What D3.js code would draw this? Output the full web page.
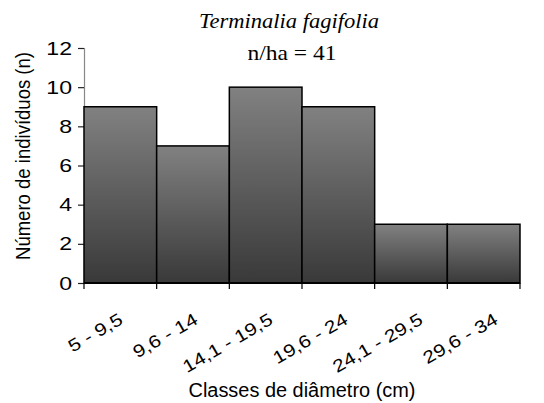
<!DOCTYPE html>
<html>
<head>
<meta charset="utf-8">
<script src="https://cdn.jsdelivr.net/npm/d3@7"></script>
<style>
  html, body { margin: 0; padding: 0; background: #fff; }
  svg { display: block; }
</style>
</head>
<body>
<svg id="chart" width="544" height="403"></svg>
<script>
// Diameter classes (cm) and number of individuals per class
const classes = ["5 - 9,5", "9,6 - 14", "14,1 - 19,5", "19,6 - 24", "24,1 - 29,5", "29,6 - 34"];
const counts = [9, 7, 10, 9, 3, 3];
const yTicks = [0, 2, 4, 6, 8, 10, 12];

const svg = d3.select("#chart");
const plotLeft = 84, plotRight = 520, plotTop = 48, plotBottom = 283;
const sans = "Liberation Sans, Arial, sans-serif";
const serif = "Liberation Serif, Times New Roman, serif";

const x = d3.scaleBand().domain(classes).range([plotLeft, plotRight]).padding(0);
const y = d3.scaleLinear().domain([0, 12]).range([plotBottom, plotTop]);
// category labels sit on a slightly wider pitch than the bars
const xLabel = d3.scalePoint().domain(classes).range([124, 499]);

// Vertical gray gradient for each bar
const defs = svg.append("defs");
const grad = defs.append("linearGradient")
  .attr("id", "barGrad").attr("x1", 0).attr("y1", 0).attr("x2", 0).attr("y2", 1);
grad.append("stop").attr("offset", "0%").attr("stop-color", "#818181");
grad.append("stop").attr("offset", "100%").attr("stop-color", "#393939");

// Y axis
const yAxis = d3.axisLeft(y).tickValues(yTicks).tickSize(6).tickFormat("");
const gy = svg.append("g").attr("transform", `translate(${plotLeft},0)`).call(yAxis);
gy.select(".domain").attr("stroke", "#888").attr("stroke-width", 1.2);
gy.selectAll(".tick line").attr("stroke", "#222").attr("stroke-width", 1.2);
gy.selectAll(".tick").append("text")
  .attr("transform", "translate(-12,0) scale(1.32,1)")
  .attr("dy", "0.35em")
  .attr("text-anchor", "end")
  .attr("font-family", sans)
  .attr("font-size", 17.5)
  .attr("fill", "#000")
  .text(d => d);

// Bars
svg.append("g").selectAll("rect").data(counts).join("rect")
  .attr("x", (d, i) => x(classes[i]))
  .attr("y", d => y(d))
  .attr("width", x.bandwidth())
  .attr("height", d => y(0) - y(d))
  .attr("fill", "url(#barGrad)")
  .attr("stroke", "#000")
  .attr("stroke-width", 1.5);

// X axis: ticks at class boundaries
const boundaries = classes.map(c => x(c)).concat([plotRight]);
const gx = svg.append("g");
gx.append("line")
  .attr("x1", plotLeft).attr("x2", plotRight).attr("y1", y(0)).attr("y2", y(0))
  .attr("stroke", "#000").attr("stroke-width", 2);
gx.selectAll("line.tk").data(boundaries).join("line").attr("class", "tk")
  .attr("x1", d => d).attr("x2", d => d)
  .attr("y1", y(0)).attr("y2", y(0) + 6)
  .attr("stroke", "#000").attr("stroke-width", 1.2);

// Rotated class labels
gx.selectAll("text").data(classes).join("text")
  .attr("transform", d => `translate(${xLabel(d)},323) rotate(-30) scale(1.2,1)`)
  .attr("text-anchor", "end")
  .attr("font-family", sans)
  .attr("font-size", 17.5)
  .attr("fill", "#000")
  .text(d => d);

// Axis titles
svg.append("text")
  .attr("x", 302).attr("y", 397)
  .attr("text-anchor", "middle")
  .attr("font-family", sans)
  .attr("font-size", 19.5)
  .attr("textLength", 227)
  .attr("lengthAdjust", "spacingAndGlyphs")
  .text("Classes de diâmetro (cm)");

svg.append("text")
  .attr("transform", `translate(30,156) rotate(-90)`)
  .attr("text-anchor", "middle")
  .attr("font-family", sans)
  .attr("font-size", 19.5)
  .attr("textLength", 208)
  .attr("lengthAdjust", "spacingAndGlyphs")
  .text("Número de indivíduos (n)");

// Chart title
svg.append("text")
  .attr("x", 289).attr("y", 28)
  .attr("text-anchor", "middle")
  .attr("font-family", serif)
  .attr("font-style", "italic")
  .attr("font-size", 21.5)
  .attr("textLength", 180)
  .attr("lengthAdjust", "spacingAndGlyphs")
  .text("Terminalia fagifolia");
svg.append("text")
  .attr("x", 292).attr("y", 60)
  .attr("text-anchor", "middle")
  .attr("font-family", serif)
  .attr("font-size", 21.5)
  .attr("textLength", 89)
  .attr("lengthAdjust", "spacingAndGlyphs")
  .text("n/ha = 41");
</script>
</body>
</html>
